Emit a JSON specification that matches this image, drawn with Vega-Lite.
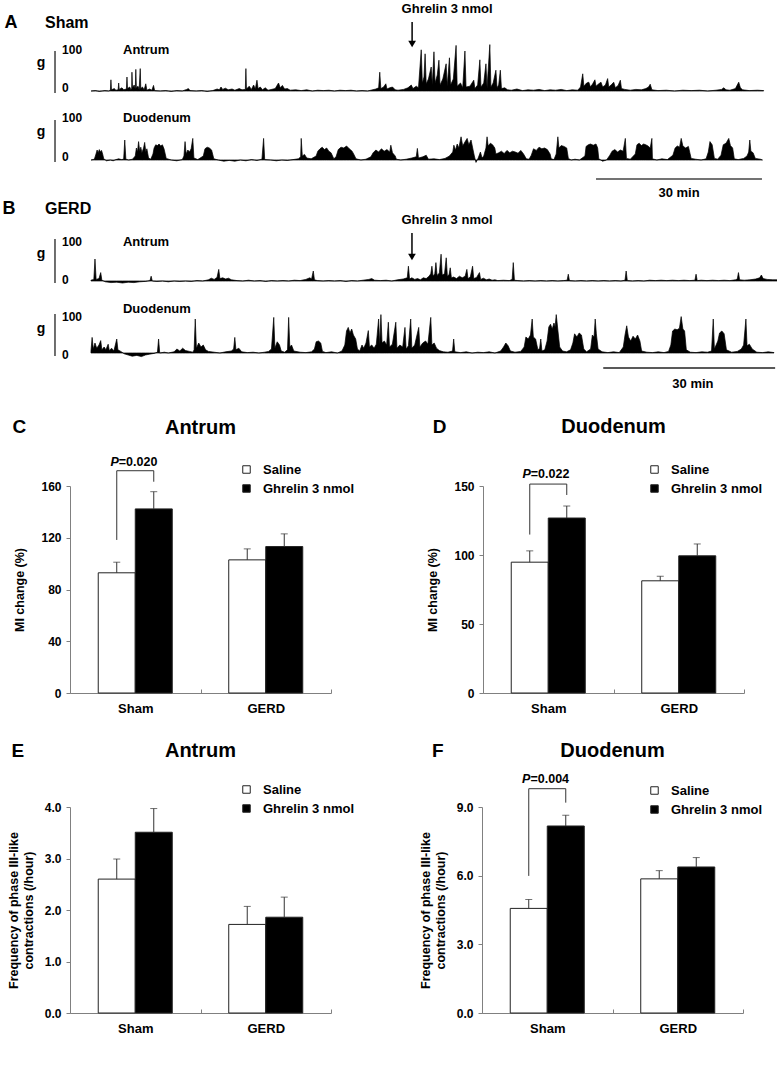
{
"$schema": "https://vega.github.io/schema/vega-lite/v6.json",
"background": "white",
"padding": {"left": 2, "top": 0, "right": 0, "bottom": 0},
"spacing": 26,
"resolve": {"scale": {"fill": "independent"}, "legend": {"fill": "independent"}},
"config": {
 "font": "Liberation Sans",
 "view": {"stroke": null},
 "text": {"font": "Liberation Sans", "fontWeight": "bold", "color": "black", "baseline": "middle"},
 "title": {"font": "Liberation Sans", "fontSize": 20, "fontWeight": "bold", "color": "black"},
 "axis": {"labelFont": "Liberation Sans", "labelFontWeight": "bold", "labelFontSize": 12, "labelColor": "black", "titleFont": "Liberation Sans", "titleFontWeight": "bold", "titleFontSize": 12.5, "titleColor": "black", "domainColor": "#808080", "tickColor": "#808080", "grid": false},
 "legend": {"symbolType": "square", "symbolSize": 56, "symbolStrokeColor": "#222", "symbolStrokeWidth": 1, "labelFont": "Liberation Sans", "labelFontSize": 13, "labelFontWeight": "bold", "labelColor": "black", "rowPadding": 5, "padding": 0, "labelOffset": 10}
},
"datasets": {
"traces": [
{"s":"A1","t":0,"v":0},{"s":"A1","t":0.8,"v":1},{"s":"A1","t":1.5,"v":-1},{"s":"A1","t":2.5,"v":1},{"s":"A1","t":3.2,"v":0},{"s":"A1","t":3.5,"v":2},{"s":"A1","t":3.6,"v":28},{"s":"A1","t":3.7,"v":3},{"s":"A1","t":4.2,"v":6},{"s":"A1","t":4.5,"v":2},{"s":"A1","t":4.9,"v":3},{"s":"A1","t":5.0,"v":20},{"s":"A1","t":5.1,"v":4},{"s":"A1","t":5.6,"v":8},{"s":"A1","t":5.9,"v":3},{"s":"A1","t":6.4,"v":5},{"s":"A1","t":6.5,"v":35},{"s":"A1","t":6.6,"v":6},{"s":"A1","t":7.0,"v":10},{"s":"A1","t":7.2,"v":4},{"s":"A1","t":7.35,"v":6},{"s":"A1","t":7.4,"v":47},{"s":"A1","t":7.5,"v":8},{"s":"A1","t":7.8,"v":15},{"s":"A1","t":8.0,"v":5},{"s":"A1","t":8.1,"v":54},{"s":"A1","t":8.2,"v":8},{"s":"A1","t":8.5,"v":12},{"s":"A1","t":8.7,"v":4},{"s":"A1","t":8.9,"v":56},{"s":"A1","t":9.0,"v":6},{"s":"A1","t":9.3,"v":10},{"s":"A1","t":9.6,"v":3},{"s":"A1","t":9.9,"v":18},{"s":"A1","t":10.1,"v":2},{"s":"A1","t":10.6,"v":5},{"s":"A1","t":11.0,"v":2},{"s":"A1","t":11.3,"v":14},{"s":"A1","t":11.5,"v":1},{"s":"A1","t":12.5,"v":0},{"s":"A1","t":13.5,"v":1},{"s":"A1","t":14.5,"v":-1},{"s":"A1","t":15.5,"v":1},{"s":"A1","t":16.5,"v":0},{"s":"A1","t":17.3,"v":4},{"s":"A1","t":17.6,"v":6},{"s":"A1","t":17.9,"v":1},{"s":"A1","t":19,"v":0},{"s":"A1","t":20,"v":1},{"s":"A1","t":21,"v":-1},{"s":"A1","t":22,"v":1},{"s":"A1","t":22.8,"v":5},{"s":"A1","t":23.2,"v":3},{"s":"A1","t":23.5,"v":10},{"s":"A1","t":23.8,"v":4},{"s":"A1","t":24.3,"v":7},{"s":"A1","t":24.8,"v":3},{"s":"A1","t":25.5,"v":5},{"s":"A1","t":26,"v":2},{"s":"A1","t":26.8,"v":6},{"s":"A1","t":27.3,"v":3},{"s":"A1","t":27.9,"v":4},{"s":"A1","t":28.0,"v":56},{"s":"A1","t":28.1,"v":5},{"s":"A1","t":28.6,"v":12},{"s":"A1","t":29.0,"v":4},{"s":"A1","t":29.4,"v":15},{"s":"A1","t":29.7,"v":5},{"s":"A1","t":30.0,"v":27},{"s":"A1","t":30.2,"v":6},{"s":"A1","t":30.6,"v":10},{"s":"A1","t":31.0,"v":3},{"s":"A1","t":31.5,"v":8},{"s":"A1","t":32,"v":2},{"s":"A1","t":33.3,"v":6},{"s":"A1","t":33.9,"v":20},{"s":"A1","t":34.2,"v":8},{"s":"A1","t":34.6,"v":14},{"s":"A1","t":35.0,"v":5},{"s":"A1","t":35.5,"v":6},{"s":"A1","t":36,"v":2},{"s":"A1","t":37,"v":3},{"s":"A1","t":38,"v":1},{"s":"A1","t":39,"v":3},{"s":"A1","t":40,"v":0},{"s":"A1","t":41,"v":2},{"s":"A1","t":42,"v":1},{"s":"A1","t":43,"v":2},{"s":"A1","t":44,"v":0},{"s":"A1","t":45,"v":2},{"s":"A1","t":46,"v":1},{"s":"A1","t":47,"v":2},{"s":"A1","t":48,"v":0},{"s":"A1","t":49,"v":1},{"s":"A1","t":50,"v":0},{"s":"A1","t":51.5,"v":5},{"s":"A1","t":52.0,"v":8},{"s":"A1","t":52.2,"v":47},{"s":"A1","t":52.4,"v":6},{"s":"A1","t":52.9,"v":10},{"s":"A1","t":53.3,"v":18},{"s":"A1","t":53.5,"v":5},{"s":"A1","t":54.0,"v":8},{"s":"A1","t":54.5,"v":10},{"s":"A1","t":55.0,"v":3},{"s":"A1","t":55.5,"v":2},{"s":"A1","t":56.5,"v":4},{"s":"A1","t":57.3,"v":8},{"s":"A1","t":57.9,"v":15},{"s":"A1","t":58.2,"v":6},{"s":"A1","t":58.8,"v":12},{"s":"A1","t":59.2,"v":8},{"s":"A1","t":59.7,"v":103},{"s":"A1","t":59.9,"v":20},{"s":"A1","t":60.2,"v":35},{"s":"A1","t":60.4,"v":93},{"s":"A1","t":60.6,"v":18},{"s":"A1","t":61.0,"v":30},{"s":"A1","t":61.5,"v":60},{"s":"A1","t":61.7,"v":15},{"s":"A1","t":62.0,"v":98},{"s":"A1","t":62.2,"v":20},{"s":"A1","t":62.6,"v":40},{"s":"A1","t":62.9,"v":77},{"s":"A1","t":63.1,"v":15},{"s":"A1","t":63.6,"v":30},{"s":"A1","t":64.2,"v":68},{"s":"A1","t":64.4,"v":12},{"s":"A1","t":64.8,"v":83},{"s":"A1","t":65.0,"v":15},{"s":"A1","t":65.5,"v":30},{"s":"A1","t":66.0,"v":114},{"s":"A1","t":66.2,"v":12},{"s":"A1","t":66.8,"v":20},{"s":"A1","t":67.2,"v":8},{"s":"A1","t":67.6,"v":100},{"s":"A1","t":67.8,"v":10},{"s":"A1","t":68.5,"v":12},{"s":"A1","t":69.2,"v":27},{"s":"A1","t":69.4,"v":6},{"s":"A1","t":69.9,"v":15},{"s":"A1","t":70.3,"v":78},{"s":"A1","t":70.5,"v":10},{"s":"A1","t":71.0,"v":20},{"s":"A1","t":71.4,"v":68},{"s":"A1","t":71.6,"v":8},{"s":"A1","t":72.1,"v":116},{"s":"A1","t":72.3,"v":10},{"s":"A1","t":72.7,"v":20},{"s":"A1","t":73.2,"v":52},{"s":"A1","t":73.4,"v":8},{"s":"A1","t":73.7,"v":15},{"s":"A1","t":74.0,"v":52},{"s":"A1","t":74.2,"v":6},{"s":"A1","t":74.8,"v":8},{"s":"A1","t":75.3,"v":3},{"s":"A1","t":76,"v":2},{"s":"A1","t":77,"v":5},{"s":"A1","t":78,"v":1},{"s":"A1","t":79,"v":3},{"s":"A1","t":80,"v":2},{"s":"A1","t":81,"v":4},{"s":"A1","t":82,"v":1},{"s":"A1","t":83,"v":3},{"s":"A1","t":84,"v":2},{"s":"A1","t":85,"v":4},{"s":"A1","t":86,"v":1},{"s":"A1","t":87,"v":3},{"s":"A1","t":88,"v":2},{"s":"A1","t":88.5,"v":10},{"s":"A1","t":88.9,"v":43},{"s":"A1","t":89.1,"v":12},{"s":"A1","t":89.6,"v":20},{"s":"A1","t":90.0,"v":22},{"s":"A1","t":90.3,"v":10},{"s":"A1","t":90.7,"v":18},{"s":"A1","t":91.1,"v":28},{"s":"A1","t":91.3,"v":12},{"s":"A1","t":91.8,"v":18},{"s":"A1","t":92.2,"v":22},{"s":"A1","t":92.5,"v":10},{"s":"A1","t":93.0,"v":15},{"s":"A1","t":93.4,"v":31},{"s":"A1","t":93.6,"v":10},{"s":"A1","t":94.1,"v":16},{"s":"A1","t":94.5,"v":22},{"s":"A1","t":94.8,"v":8},{"s":"A1","t":95.3,"v":14},{"s":"A1","t":95.7,"v":27},{"s":"A1","t":95.9,"v":6},{"s":"A1","t":96.5,"v":4},{"s":"A1","t":97.5,"v":2},{"s":"A1","t":98.5,"v":4},{"s":"A1","t":99.5,"v":3},{"s":"A1","t":100.3,"v":6},{"s":"A1","t":100.8,"v":10},{"s":"A1","t":101.1,"v":17},{"s":"A1","t":101.4,"v":3},{"s":"A1","t":102.5,"v":1},{"s":"A1","t":104,"v":2},{"s":"A1","t":105.5,"v":0},{"s":"A1","t":107,"v":2},{"s":"A1","t":108.5,"v":1},{"s":"A1","t":110,"v":2},{"s":"A1","t":111.5,"v":0},{"s":"A1","t":113,"v":2},{"s":"A1","t":114.0,"v":4},{"s":"A1","t":114.4,"v":8},{"s":"A1","t":114.8,"v":3},{"s":"A1","t":115.5,"v":2},{"s":"A1","t":116.5,"v":6},{"s":"A1","t":117.1,"v":22},{"s":"A1","t":117.4,"v":8},{"s":"A1","t":117.8,"v":3},{"s":"A1","t":119,"v":1},{"s":"A1","t":120.5,"v":2},{"s":"A1","t":121.6,"v":1},
{"s":"A2","t":0,"v":0},{"s":"A2","t":0.6,"v":2},{"s":"A2","t":0.9,"v":15},{"s":"A2","t":1.1,"v":25},{"s":"A2","t":1.3,"v":18},{"s":"A2","t":1.5,"v":26},{"s":"A2","t":1.7,"v":20},{"s":"A2","t":1.9,"v":24},{"s":"A2","t":2.1,"v":15},{"s":"A2","t":2.3,"v":3},{"s":"A2","t":2.8,"v":-2},{"s":"A2","t":3.5,"v":0},{"s":"A2","t":4.0,"v":-2},{"s":"A2","t":4.5,"v":1},{"s":"A2","t":5.0,"v":3},{"s":"A2","t":5.5,"v":1},{"s":"A2","t":5.9,"v":2},{"s":"A2","t":6.1,"v":50},{"s":"A2","t":6.3,"v":2},{"s":"A2","t":6.8,"v":0},{"s":"A2","t":7.5,"v":2},{"s":"A2","t":8.0,"v":10},{"s":"A2","t":8.2,"v":30},{"s":"A2","t":8.4,"v":20},{"s":"A2","t":8.6,"v":46},{"s":"A2","t":8.8,"v":22},{"s":"A2","t":9.0,"v":32},{"s":"A2","t":9.2,"v":18},{"s":"A2","t":9.5,"v":30},{"s":"A2","t":9.7,"v":44},{"s":"A2","t":9.9,"v":20},{"s":"A2","t":10.1,"v":28},{"s":"A2","t":10.4,"v":5},{"s":"A2","t":10.8,"v":2},{"s":"A2","t":11.2,"v":15},{"s":"A2","t":11.4,"v":30},{"s":"A2","t":11.7,"v":38},{"s":"A2","t":12.0,"v":36},{"s":"A2","t":12.3,"v":40},{"s":"A2","t":12.6,"v":35},{"s":"A2","t":12.9,"v":38},{"s":"A2","t":13.2,"v":28},{"s":"A2","t":13.6,"v":4},{"s":"A2","t":14.5,"v":0},{"s":"A2","t":15.5,"v":-2},{"s":"A2","t":16.5,"v":1},{"s":"A2","t":16.8,"v":10},{"s":"A2","t":17.0,"v":46},{"s":"A2","t":17.2,"v":15},{"s":"A2","t":17.5,"v":25},{"s":"A2","t":17.8,"v":20},{"s":"A2","t":18.1,"v":28},{"s":"A2","t":18.4,"v":54},{"s":"A2","t":18.6,"v":5},{"s":"A2","t":19.3,"v":1},{"s":"A2","t":20.3,"v":10},{"s":"A2","t":20.6,"v":28},{"s":"A2","t":21.0,"v":32},{"s":"A2","t":21.4,"v":30},{"s":"A2","t":21.8,"v":25},{"s":"A2","t":22.2,"v":3},{"s":"A2","t":23,"v":0},{"s":"A2","t":24,"v":-3},{"s":"A2","t":25,"v":-1},{"s":"A2","t":26,"v":-3},{"s":"A2","t":27,"v":0},{"s":"A2","t":28,"v":-2},{"s":"A2","t":29,"v":1},{"s":"A2","t":30,"v":-1},{"s":"A2","t":30.9,"v":2},{"s":"A2","t":31.2,"v":54},{"s":"A2","t":31.4,"v":1},{"s":"A2","t":32.5,"v":0},{"s":"A2","t":33.5,"v":-2},{"s":"A2","t":34.5,"v":0},{"s":"A2","t":35.5,"v":-1},{"s":"A2","t":36.5,"v":1},{"s":"A2","t":37.5,"v":3},{"s":"A2","t":37.9,"v":8},{"s":"A2","t":38.0,"v":54},{"s":"A2","t":38.2,"v":10},{"s":"A2","t":38.6,"v":14},{"s":"A2","t":39.0,"v":5},{"s":"A2","t":39.8,"v":3},{"s":"A2","t":40.7,"v":10},{"s":"A2","t":41.0,"v":22},{"s":"A2","t":41.4,"v":28},{"s":"A2","t":41.8,"v":32},{"s":"A2","t":42.2,"v":26},{"s":"A2","t":42.6,"v":30},{"s":"A2","t":43.0,"v":22},{"s":"A2","t":43.4,"v":18},{"s":"A2","t":43.9,"v":3},{"s":"A2","t":44.3,"v":8},{"s":"A2","t":44.7,"v":26},{"s":"A2","t":45.2,"v":32},{"s":"A2","t":45.7,"v":30},{"s":"A2","t":46.2,"v":35},{"s":"A2","t":46.7,"v":28},{"s":"A2","t":47.2,"v":22},{"s":"A2","t":47.6,"v":12},{"s":"A2","t":47.9,"v":3},{"s":"A2","t":48.8,"v":0},{"s":"A2","t":49.7,"v":2},{"s":"A2","t":50.6,"v":8},{"s":"A2","t":51.0,"v":18},{"s":"A2","t":51.5,"v":25},{"s":"A2","t":52.0,"v":20},{"s":"A2","t":52.5,"v":28},{"s":"A2","t":53.0,"v":22},{"s":"A2","t":53.5,"v":26},{"s":"A2","t":54.0,"v":20},{"s":"A2","t":54.2,"v":37},{"s":"A2","t":54.5,"v":18},{"s":"A2","t":55.0,"v":10},{"s":"A2","t":55.2,"v":2},{"s":"A2","t":56.0,"v":0},{"s":"A2","t":57.0,"v":2},{"s":"A2","t":58.0,"v":5},{"s":"A2","t":58.8,"v":8},{"s":"A2","t":59.0,"v":29},{"s":"A2","t":59.2,"v":5},{"s":"A2","t":60.0,"v":8},{"s":"A2","t":60.6,"v":12},{"s":"A2","t":61.0,"v":2},{"s":"A2","t":62.0,"v":3},{"s":"A2","t":63.0,"v":1},{"s":"A2","t":64.0,"v":4},{"s":"A2","t":64.8,"v":10},{"s":"A2","t":65.4,"v":20},{"s":"A2","t":65.6,"v":37},{"s":"A2","t":65.9,"v":25},{"s":"A2","t":66.2,"v":40},{"s":"A2","t":66.5,"v":30},{"s":"A2","t":66.9,"v":58},{"s":"A2","t":67.2,"v":35},{"s":"A2","t":67.6,"v":45},{"s":"A2","t":68.0,"v":54},{"s":"A2","t":68.3,"v":38},{"s":"A2","t":68.7,"v":50},{"s":"A2","t":69.0,"v":30},{"s":"A2","t":69.3,"v":10},{"s":"A2","t":69.6,"v":-6},{"s":"A2","t":70.0,"v":5},{"s":"A2","t":70.4,"v":20},{"s":"A2","t":70.7,"v":5},{"s":"A2","t":71.0,"v":10},{"s":"A2","t":71.4,"v":30},{"s":"A2","t":71.6,"v":58},{"s":"A2","t":71.8,"v":35},{"s":"A2","t":72.2,"v":42},{"s":"A2","t":72.6,"v":38},{"s":"A2","t":73.0,"v":30},{"s":"A2","t":73.2,"v":15},{"s":"A2","t":73.7,"v":18},{"s":"A2","t":74.2,"v":22},{"s":"A2","t":74.7,"v":16},{"s":"A2","t":75.2,"v":24},{"s":"A2","t":75.7,"v":18},{"s":"A2","t":76.2,"v":22},{"s":"A2","t":76.7,"v":20},{"s":"A2","t":77.2,"v":17},{"s":"A2","t":77.7,"v":24},{"s":"A2","t":78.2,"v":15},{"s":"A2","t":78.7,"v":3},{"s":"A2","t":79.2,"v":2},{"s":"A2","t":79.6,"v":12},{"s":"A2","t":80.0,"v":28},{"s":"A2","t":80.5,"v":24},{"s":"A2","t":81.0,"v":32},{"s":"A2","t":81.5,"v":28},{"s":"A2","t":82.0,"v":30},{"s":"A2","t":82.5,"v":26},{"s":"A2","t":83.0,"v":15},{"s":"A2","t":83.2,"v":3},{"s":"A2","t":83.7,"v":1},{"s":"A2","t":84.1,"v":15},{"s":"A2","t":84.4,"v":58},{"s":"A2","t":84.6,"v":30},{"s":"A2","t":85.0,"v":36},{"s":"A2","t":85.5,"v":34},{"s":"A2","t":86.0,"v":30},{"s":"A2","t":86.3,"v":4},{"s":"A2","t":86.8,"v":0},{"s":"A2","t":87.5,"v":2},{"s":"A2","t":88.3,"v":0},{"s":"A2","t":89.3,"v":10},{"s":"A2","t":89.5,"v":34},{"s":"A2","t":89.9,"v":38},{"s":"A2","t":90.3,"v":40},{"s":"A2","t":90.8,"v":37},{"s":"A2","t":91.3,"v":40},{"s":"A2","t":91.6,"v":30},{"s":"A2","t":91.8,"v":3},{"s":"A2","t":92.5,"v":-3},{"s":"A2","t":93.2,"v":0},{"s":"A2","t":93.8,"v":12},{"s":"A2","t":94.2,"v":22},{"s":"A2","t":94.7,"v":26},{"s":"A2","t":95.2,"v":20},{"s":"A2","t":95.7,"v":25},{"s":"A2","t":96.2,"v":22},{"s":"A2","t":96.6,"v":54},{"s":"A2","t":96.8,"v":4},{"s":"A2","t":97.5,"v":2},{"s":"A2","t":98.4,"v":15},{"s":"A2","t":98.7,"v":38},{"s":"A2","t":99.1,"v":42},{"s":"A2","t":99.5,"v":36},{"s":"A2","t":99.9,"v":40},{"s":"A2","t":100.3,"v":38},{"s":"A2","t":100.7,"v":35},{"s":"A2","t":101.1,"v":30},{"s":"A2","t":101.4,"v":54},{"s":"A2","t":101.5,"v":3},{"s":"A2","t":102.3,"v":0},{"s":"A2","t":103.2,"v":3},{"s":"A2","t":104.2,"v":1},{"s":"A2","t":105.2,"v":12},{"s":"A2","t":105.6,"v":30},{"s":"A2","t":106.0,"v":35},{"s":"A2","t":106.4,"v":32},{"s":"A2","t":106.7,"v":54},{"s":"A2","t":107.0,"v":35},{"s":"A2","t":107.5,"v":30},{"s":"A2","t":108.0,"v":34},{"s":"A2","t":108.5,"v":4},{"s":"A2","t":109.3,"v":2},{"s":"A2","t":110.3,"v":0},{"s":"A2","t":111.2,"v":3},{"s":"A2","t":111.6,"v":20},{"s":"A2","t":111.9,"v":46},{"s":"A2","t":112.3,"v":38},{"s":"A2","t":112.7,"v":4},{"s":"A2","t":113.3,"v":2},{"s":"A2","t":113.9,"v":12},{"s":"A2","t":114.3,"v":38},{"s":"A2","t":114.8,"v":42},{"s":"A2","t":115.3,"v":54},{"s":"A2","t":115.6,"v":36},{"s":"A2","t":116.0,"v":30},{"s":"A2","t":116.3,"v":3},{"s":"A2","t":117.0,"v":1},{"s":"A2","t":118.0,"v":4},{"s":"A2","t":118.6,"v":10},{"s":"A2","t":118.9,"v":20},{"s":"A2","t":119.1,"v":50},{"s":"A2","t":119.3,"v":22},{"s":"A2","t":119.7,"v":18},{"s":"A2","t":120.1,"v":4},{"s":"A2","t":121.0,"v":2},{"s":"A2","t":121.4,"v":0},
{"s":"B1","t":0,"v":2},{"s":"B1","t":0.5,"v":4},{"s":"B1","t":0.7,"v":55},{"s":"B1","t":0.9,"v":4},{"s":"B1","t":1.4,"v":6},{"s":"B1","t":1.7,"v":21},{"s":"B1","t":1.9,"v":2},{"s":"B1","t":2.5,"v":-2},{"s":"B1","t":3.5,"v":-4},{"s":"B1","t":4.5,"v":-3},{"s":"B1","t":5.5,"v":-5},{"s":"B1","t":6.5,"v":-3},{"s":"B1","t":7.5,"v":-4},{"s":"B1","t":8.5,"v":-2},{"s":"B1","t":9.5,"v":-1},{"s":"B1","t":10.3,"v":1},{"s":"B1","t":10.5,"v":12},{"s":"B1","t":10.7,"v":0},{"s":"B1","t":11.5,"v":-1},{"s":"B1","t":12.5,"v":0},{"s":"B1","t":13.5,"v":-2},{"s":"B1","t":14.5,"v":0},{"s":"B1","t":15.5,"v":-1},{"s":"B1","t":16.5,"v":0},{"s":"B1","t":17.5,"v":-1},{"s":"B1","t":18.5,"v":1},{"s":"B1","t":19.5,"v":0},{"s":"B1","t":20.5,"v":3},{"s":"B1","t":21.0,"v":7},{"s":"B1","t":21.5,"v":4},{"s":"B1","t":22.0,"v":9},{"s":"B1","t":22.3,"v":29},{"s":"B1","t":22.5,"v":6},{"s":"B1","t":23.0,"v":8},{"s":"B1","t":23.5,"v":5},{"s":"B1","t":24.0,"v":7},{"s":"B1","t":24.5,"v":3},{"s":"B1","t":25.5,"v":1},{"s":"B1","t":26.5,"v":0},{"s":"B1","t":27.5,"v":2},{"s":"B1","t":28.5,"v":0},{"s":"B1","t":29.5,"v":1},{"s":"B1","t":30.5,"v":-1},{"s":"B1","t":31.5,"v":1},{"s":"B1","t":32.5,"v":0},{"s":"B1","t":33.5,"v":1},{"s":"B1","t":34.5,"v":0},{"s":"B1","t":35.5,"v":2},{"s":"B1","t":36.5,"v":1},{"s":"B1","t":37.5,"v":4},{"s":"B1","t":38.2,"v":8},{"s":"B1","t":38.5,"v":5},{"s":"B1","t":38.8,"v":25},{"s":"B1","t":39.0,"v":3},{"s":"B1","t":39.5,"v":1},{"s":"B1","t":40.5,"v":0},{"s":"B1","t":41.5,"v":1},{"s":"B1","t":42.5,"v":0},{"s":"B1","t":43.5,"v":1},{"s":"B1","t":44.5,"v":-1},{"s":"B1","t":45.5,"v":1},{"s":"B1","t":46.5,"v":0},{"s":"B1","t":47.5,"v":2},{"s":"B1","t":48.5,"v":4},{"s":"B1","t":49.0,"v":6},{"s":"B1","t":49.5,"v":2},{"s":"B1","t":50.5,"v":1},{"s":"B1","t":51.5,"v":2},{"s":"B1","t":52.5,"v":0},{"s":"B1","t":53.5,"v":3},{"s":"B1","t":54.5,"v":5},{"s":"B1","t":55.2,"v":8},{"s":"B1","t":55.4,"v":37},{"s":"B1","t":55.6,"v":5},{"s":"B1","t":56.0,"v":8},{"s":"B1","t":56.5,"v":4},{"s":"B1","t":57.0,"v":6},{"s":"B1","t":57.5,"v":3},{"s":"B1","t":58.0,"v":8},{"s":"B1","t":58.5,"v":6},{"s":"B1","t":59.0,"v":12},{"s":"B1","t":59.3,"v":18},{"s":"B1","t":59.5,"v":37},{"s":"B1","t":59.7,"v":12},{"s":"B1","t":60.0,"v":18},{"s":"B1","t":60.2,"v":46},{"s":"B1","t":60.4,"v":14},{"s":"B1","t":60.8,"v":20},{"s":"B1","t":61.1,"v":67},{"s":"B1","t":61.3,"v":15},{"s":"B1","t":61.7,"v":18},{"s":"B1","t":62.0,"v":58},{"s":"B1","t":62.2,"v":12},{"s":"B1","t":62.5,"v":16},{"s":"B1","t":62.7,"v":33},{"s":"B1","t":62.9,"v":8},{"s":"B1","t":63.3,"v":10},{"s":"B1","t":63.8,"v":6},{"s":"B1","t":64.3,"v":12},{"s":"B1","t":64.8,"v":8},{"s":"B1","t":65.3,"v":12},{"s":"B1","t":65.6,"v":29},{"s":"B1","t":65.8,"v":6},{"s":"B1","t":66.2,"v":10},{"s":"B1","t":66.6,"v":37},{"s":"B1","t":66.8,"v":6},{"s":"B1","t":67.3,"v":9},{"s":"B1","t":67.8,"v":21},{"s":"B1","t":68.0,"v":4},{"s":"B1","t":68.5,"v":7},{"s":"B1","t":69.0,"v":3},{"s":"B1","t":69.5,"v":5},{"s":"B1","t":70.0,"v":2},{"s":"B1","t":70.5,"v":3},{"s":"B1","t":71.0,"v":1},{"s":"B1","t":72.0,"v":2},{"s":"B1","t":73.0,"v":1},{"s":"B1","t":73.5,"v":4},{"s":"B1","t":73.7,"v":46},{"s":"B1","t":73.9,"v":2},{"s":"B1","t":74.5,"v":1},{"s":"B1","t":75.5,"v":0},{"s":"B1","t":76.5,"v":1},{"s":"B1","t":77.5,"v":0},{"s":"B1","t":78.5,"v":1},{"s":"B1","t":79.5,"v":0},{"s":"B1","t":80.5,"v":1},{"s":"B1","t":81.5,"v":0},{"s":"B1","t":82.5,"v":1},{"s":"B1","t":83.1,"v":2},{"s":"B1","t":83.3,"v":17},{"s":"B1","t":83.5,"v":1},{"s":"B1","t":84.5,"v":0},{"s":"B1","t":85.5,"v":1},{"s":"B1","t":86.5,"v":0},{"s":"B1","t":87.5,"v":1},{"s":"B1","t":88.5,"v":0},{"s":"B1","t":89.5,"v":1},{"s":"B1","t":90.5,"v":0},{"s":"B1","t":91.5,"v":1},{"s":"B1","t":92.5,"v":0},{"s":"B1","t":93.2,"v":2},{"s":"B1","t":93.4,"v":25},{"s":"B1","t":93.6,"v":1},{"s":"B1","t":94.5,"v":0},{"s":"B1","t":95.5,"v":1},{"s":"B1","t":96.5,"v":0},{"s":"B1","t":97.5,"v":2},{"s":"B1","t":98.5,"v":1},{"s":"B1","t":99.5,"v":2},{"s":"B1","t":100.5,"v":1},{"s":"B1","t":101.5,"v":2},{"s":"B1","t":102.5,"v":1},{"s":"B1","t":103.5,"v":2},{"s":"B1","t":104.5,"v":1},{"s":"B1","t":105.4,"v":2},{"s":"B1","t":105.6,"v":17},{"s":"B1","t":105.8,"v":1},{"s":"B1","t":106.5,"v":2},{"s":"B1","t":107.5,"v":1},{"s":"B1","t":108.5,"v":2},{"s":"B1","t":109.5,"v":1},{"s":"B1","t":110.5,"v":2},{"s":"B1","t":111.5,"v":1},{"s":"B1","t":112.5,"v":3},{"s":"B1","t":112.8,"v":5},{"s":"B1","t":113.0,"v":21},{"s":"B1","t":113.2,"v":3},{"s":"B1","t":114.0,"v":2},{"s":"B1","t":115.0,"v":3},{"s":"B1","t":116.0,"v":5},{"s":"B1","t":116.7,"v":8},{"s":"B1","t":117.0,"v":15},{"s":"B1","t":117.3,"v":6},{"s":"B1","t":118.0,"v":4},{"s":"B1","t":119.0,"v":3},{"s":"B1","t":120.4,"v":3},
{"s":"B2","t":0,"v":5},{"s":"B2","t":0.2,"v":39},{"s":"B2","t":0.4,"v":10},{"s":"B2","t":0.7,"v":25},{"s":"B2","t":1.0,"v":12},{"s":"B2","t":1.4,"v":20},{"s":"B2","t":1.7,"v":31},{"s":"B2","t":1.9,"v":8},{"s":"B2","t":2.3,"v":15},{"s":"B2","t":2.6,"v":8},{"s":"B2","t":3.0,"v":22},{"s":"B2","t":3.2,"v":6},{"s":"B2","t":3.6,"v":12},{"s":"B2","t":4.0,"v":5},{"s":"B2","t":4.5,"v":35},{"s":"B2","t":4.7,"v":8},{"s":"B2","t":5.2,"v":4},{"s":"B2","t":5.8,"v":-2},{"s":"B2","t":6.5,"v":-5},{"s":"B2","t":7.2,"v":-8},{"s":"B2","t":8.0,"v":-6},{"s":"B2","t":8.8,"v":-9},{"s":"B2","t":9.5,"v":-5},{"s":"B2","t":10.2,"v":-3},{"s":"B2","t":11.0,"v":-1},{"s":"B2","t":11.6,"v":2},{"s":"B2","t":11.8,"v":35},{"s":"B2","t":12.0,"v":0},{"s":"B2","t":12.8,"v":2},{"s":"B2","t":13.5,"v":0},{"s":"B2","t":14.5,"v":3},{"s":"B2","t":15.0,"v":10},{"s":"B2","t":15.5,"v":5},{"s":"B2","t":16.0,"v":12},{"s":"B2","t":16.5,"v":6},{"s":"B2","t":17.2,"v":4},{"s":"B2","t":17.8,"v":2},{"s":"B2","t":18.0,"v":8},{"s":"B2","t":18.2,"v":85},{"s":"B2","t":18.4,"v":12},{"s":"B2","t":18.8,"v":25},{"s":"B2","t":19.2,"v":15},{"s":"B2","t":19.6,"v":20},{"s":"B2","t":20.0,"v":8},{"s":"B2","t":20.5,"v":4},{"s":"B2","t":21.5,"v":2},{"s":"B2","t":22.5,"v":0},{"s":"B2","t":23.5,"v":3},{"s":"B2","t":24.5,"v":5},{"s":"B2","t":24.9,"v":10},{"s":"B2","t":25.1,"v":39},{"s":"B2","t":25.3,"v":8},{"s":"B2","t":25.8,"v":12},{"s":"B2","t":26.3,"v":3},{"s":"B2","t":27.3,"v":1},{"s":"B2","t":28.3,"v":2},{"s":"B2","t":29.3,"v":0},{"s":"B2","t":30.3,"v":2},{"s":"B2","t":31.0,"v":4},{"s":"B2","t":31.5,"v":10},{"s":"B2","t":31.9,"v":89},{"s":"B2","t":32.1,"v":12},{"s":"B2","t":32.5,"v":28},{"s":"B2","t":32.9,"v":20},{"s":"B2","t":33.2,"v":5},{"s":"B2","t":33.8,"v":2},{"s":"B2","t":34.3,"v":8},{"s":"B2","t":34.5,"v":89},{"s":"B2","t":34.7,"v":15},{"s":"B2","t":35.0,"v":20},{"s":"B2","t":35.4,"v":5},{"s":"B2","t":36.5,"v":2},{"s":"B2","t":37.5,"v":1},{"s":"B2","t":38.5,"v":3},{"s":"B2","t":39.0,"v":10},{"s":"B2","t":39.3,"v":28},{"s":"B2","t":39.7,"v":30},{"s":"B2","t":40.1,"v":25},{"s":"B2","t":40.4,"v":4},{"s":"B2","t":41.0,"v":1},{"s":"B2","t":42.0,"v":3},{"s":"B2","t":43.0,"v":0},{"s":"B2","t":43.8,"v":5},{"s":"B2","t":44.3,"v":20},{"s":"B2","t":44.6,"v":55},{"s":"B2","t":44.9,"v":64},{"s":"B2","t":45.2,"v":50},{"s":"B2","t":45.5,"v":60},{"s":"B2","t":45.8,"v":45},{"s":"B2","t":46.2,"v":35},{"s":"B2","t":46.5,"v":10},{"s":"B2","t":46.9,"v":5},{"s":"B2","t":47.3,"v":20},{"s":"B2","t":47.6,"v":12},{"s":"B2","t":48.0,"v":25},{"s":"B2","t":48.4,"v":56},{"s":"B2","t":48.6,"v":15},{"s":"B2","t":49.0,"v":20},{"s":"B2","t":49.4,"v":12},{"s":"B2","t":49.8,"v":22},{"s":"B2","t":50.2,"v":85},{"s":"B2","t":50.4,"v":20},{"s":"B2","t":50.6,"v":96},{"s":"B2","t":50.8,"v":25},{"s":"B2","t":51.2,"v":30},{"s":"B2","t":51.6,"v":20},{"s":"B2","t":51.9,"v":77},{"s":"B2","t":52.1,"v":15},{"s":"B2","t":52.6,"v":22},{"s":"B2","t":53.2,"v":77},{"s":"B2","t":53.4,"v":12},{"s":"B2","t":53.9,"v":20},{"s":"B2","t":54.4,"v":15},{"s":"B2","t":54.8,"v":64},{"s":"B2","t":55.0,"v":10},{"s":"B2","t":55.4,"v":18},{"s":"B2","t":55.8,"v":85},{"s":"B2","t":56.0,"v":12},{"s":"B2","t":56.5,"v":20},{"s":"B2","t":57.2,"v":64},{"s":"B2","t":57.4,"v":15},{"s":"B2","t":57.9,"v":25},{"s":"B2","t":58.4,"v":30},{"s":"B2","t":58.8,"v":22},{"s":"B2","t":59.3,"v":89},{"s":"B2","t":59.5,"v":20},{"s":"B2","t":59.9,"v":25},{"s":"B2","t":60.3,"v":12},{"s":"B2","t":60.8,"v":6},{"s":"B2","t":61.5,"v":3},{"s":"B2","t":62.3,"v":2},{"s":"B2","t":63.1,"v":5},{"s":"B2","t":63.3,"v":35},{"s":"B2","t":63.5,"v":3},{"s":"B2","t":64.5,"v":1},{"s":"B2","t":65.5,"v":3},{"s":"B2","t":66.5,"v":0},{"s":"B2","t":67.5,"v":2},{"s":"B2","t":68.5,"v":1},{"s":"B2","t":69.5,"v":3},{"s":"B2","t":70.5,"v":0},{"s":"B2","t":71.5,"v":5},{"s":"B2","t":72.0,"v":15},{"s":"B2","t":72.4,"v":25},{"s":"B2","t":72.8,"v":18},{"s":"B2","t":73.2,"v":5},{"s":"B2","t":74.0,"v":2},{"s":"B2","t":75.0,"v":4},{"s":"B2","t":75.6,"v":15},{"s":"B2","t":75.9,"v":40},{"s":"B2","t":76.3,"v":35},{"s":"B2","t":76.7,"v":45},{"s":"B2","t":77.0,"v":85},{"s":"B2","t":77.2,"v":40},{"s":"B2","t":77.6,"v":35},{"s":"B2","t":78.0,"v":8},{"s":"B2","t":78.3,"v":12},{"s":"B2","t":78.5,"v":35},{"s":"B2","t":78.7,"v":5},{"s":"B2","t":79.2,"v":8},{"s":"B2","t":79.6,"v":30},{"s":"B2","t":79.9,"v":65},{"s":"B2","t":80.2,"v":72},{"s":"B2","t":80.5,"v":60},{"s":"B2","t":80.8,"v":75},{"s":"B2","t":81.0,"v":65},{"s":"B2","t":81.2,"v":96},{"s":"B2","t":81.5,"v":55},{"s":"B2","t":81.8,"v":15},{"s":"B2","t":82.3,"v":5},{"s":"B2","t":83.0,"v":3},{"s":"B2","t":83.7,"v":8},{"s":"B2","t":84.1,"v":25},{"s":"B2","t":84.4,"v":48},{"s":"B2","t":84.8,"v":40},{"s":"B2","t":85.2,"v":50},{"s":"B2","t":85.6,"v":45},{"s":"B2","t":86.0,"v":10},{"s":"B2","t":86.5,"v":3},{"s":"B2","t":87.2,"v":10},{"s":"B2","t":87.5,"v":45},{"s":"B2","t":87.8,"v":40},{"s":"B2","t":88.0,"v":85},{"s":"B2","t":88.2,"v":48},{"s":"B2","t":88.5,"v":10},{"s":"B2","t":89.2,"v":3},{"s":"B2","t":90.2,"v":1},{"s":"B2","t":91.2,"v":3},{"s":"B2","t":92.2,"v":1},{"s":"B2","t":92.9,"v":15},{"s":"B2","t":93.2,"v":45},{"s":"B2","t":93.5,"v":68},{"s":"B2","t":93.8,"v":40},{"s":"B2","t":94.2,"v":30},{"s":"B2","t":94.6,"v":42},{"s":"B2","t":95.0,"v":35},{"s":"B2","t":95.4,"v":45},{"s":"B2","t":95.8,"v":30},{"s":"B2","t":96.1,"v":5},{"s":"B2","t":97.0,"v":2},{"s":"B2","t":98.0,"v":1},{"s":"B2","t":99.0,"v":3},{"s":"B2","t":100.0,"v":1},{"s":"B2","t":100.8,"v":4},{"s":"B2","t":101.2,"v":20},{"s":"B2","t":101.5,"v":55},{"s":"B2","t":101.9,"v":60},{"s":"B2","t":102.3,"v":58},{"s":"B2","t":102.7,"v":62},{"s":"B2","t":103.0,"v":91},{"s":"B2","t":103.3,"v":60},{"s":"B2","t":103.6,"v":55},{"s":"B2","t":103.9,"v":8},{"s":"B2","t":104.6,"v":2},{"s":"B2","t":105.6,"v":1},{"s":"B2","t":106.6,"v":3},{"s":"B2","t":107.6,"v":2},{"s":"B2","t":108.3,"v":5},{"s":"B2","t":108.6,"v":85},{"s":"B2","t":108.8,"v":10},{"s":"B2","t":109.4,"v":30},{"s":"B2","t":109.7,"v":50},{"s":"B2","t":110.1,"v":55},{"s":"B2","t":110.5,"v":48},{"s":"B2","t":110.9,"v":8},{"s":"B2","t":111.8,"v":2},{"s":"B2","t":112.8,"v":4},{"s":"B2","t":113.5,"v":10},{"s":"B2","t":113.9,"v":20},{"s":"B2","t":114.3,"v":85},{"s":"B2","t":114.5,"v":18},{"s":"B2","t":114.9,"v":22},{"s":"B2","t":115.4,"v":10},{"s":"B2","t":116.2,"v":2},{"s":"B2","t":117.2,"v":1},{"s":"B2","t":118.2,"v":3},{"s":"B2","t":119.2,"v":1}
],
"bars": [
{"panel":"C","group":"Sham","treatment":"Saline","mean":92.9,"upper":101.1},
{"panel":"C","group":"Sham","treatment":"Ghrelin 3 nmol","mean":142.3,"upper":155.6},
{"panel":"C","group":"GERD","treatment":"Saline","mean":102.9,"upper":111.4},
{"panel":"C","group":"GERD","treatment":"Ghrelin 3 nmol","mean":113.2,"upper":123.0},
{"panel":"D","group":"Sham","treatment":"Saline","mean":94.8,"upper":103.0},
{"panel":"D","group":"Sham","treatment":"Ghrelin 3 nmol","mean":126.8,"upper":135.5},
{"panel":"D","group":"GERD","treatment":"Saline","mean":81.3,"upper":84.6},
{"panel":"D","group":"GERD","treatment":"Ghrelin 3 nmol","mean":99.4,"upper":108.0},
{"panel":"E","group":"Sham","treatment":"Saline","mean":2.60,"upper":2.99},
{"panel":"E","group":"Sham","treatment":"Ghrelin 3 nmol","mean":3.51,"upper":3.97},
{"panel":"E","group":"GERD","treatment":"Saline","mean":1.72,"upper":2.07},
{"panel":"E","group":"GERD","treatment":"Ghrelin 3 nmol","mean":1.86,"upper":2.25},
{"panel":"F","group":"Sham","treatment":"Saline","mean":4.57,"upper":4.96},
{"panel":"F","group":"Sham","treatment":"Ghrelin 3 nmol","mean":8.17,"upper":8.64},
{"panel":"F","group":"GERD","treatment":"Saline","mean":5.86,"upper":6.22},
{"panel":"F","group":"GERD","treatment":"Ghrelin 3 nmol","mean":6.38,"upper":6.79}
],
"brackets": [
{"panel":"C","group":"Sham","treatment":"Saline","y":118.3,"i":1},
{"panel":"C","group":"Sham","treatment":"Saline","y":171.8,"i":2},
{"panel":"C","group":"Sham","treatment":"Ghrelin 3 nmol","y":171.8,"i":3},
{"panel":"C","group":"Sham","treatment":"Ghrelin 3 nmol","y":163.3,"i":4},
{"panel":"D","group":"Sham","treatment":"Saline","y":114.8,"i":1},
{"panel":"D","group":"Sham","treatment":"Saline","y":151.4,"i":2},
{"panel":"D","group":"Sham","treatment":"Ghrelin 3 nmol","y":151.4,"i":3},
{"panel":"D","group":"Sham","treatment":"Ghrelin 3 nmol","y":143.5,"i":4},
{"panel":"F","group":"Sham","treatment":"Saline","y":5.99,"i":1},
{"panel":"F","group":"Sham","treatment":"Saline","y":9.80,"i":2},
{"panel":"F","group":"Sham","treatment":"Ghrelin 3 nmol","y":9.80,"i":3},
{"panel":"F","group":"Sham","treatment":"Ghrelin 3 nmol","y":9.19,"i":4}
]
},
"vconcat": [
{"spacing": 0, "vconcat": [
 {"width": 708, "height": 104, "layer": [
  {"data": {"name": "traces"}, "transform": [{"filter": "datum.s === 'A1'"}], "mark": {"type": "area", "fill": "black", "stroke": "black", "strokeWidth": 0.7},
   "encoding": {"x": {"field": "t", "type": "quantitative", "scale": {"domain": [-3.8, 124.2], "nice": false, "zero": false}, "axis": null},
    "y": {"field": "v", "type": "quantitative", "scale": {"domain": [-32.5, 227.5], "nice": false, "zero": false}, "axis": null}, "y2": {"datum": 0}}},
  {"data": {"values": [{"label": "A"}]}, "mark": {"type": "text", "fontSize": 18, "align": "center"}, "encoding": {"x": {"datum": -14.47}, "y": {"datum": 170}, "text": {"field": "label"}}},
  {"data": {"values": [{"label": "Sham"}]}, "mark": {"type": "text", "fontSize": 16, "align": "left"}, "encoding": {"x": {"datum": -8.32}, "y": {"datum": 170}, "text": {"field": "label"}}},
  {"data": {"values": [{"label": "Ghrelin 3 nmol"}]}, "mark": {"type": "text", "fontSize": 13, "align": "center"}, "encoding": {"x": {"datum": 64.38}, "y": {"datum": 205}, "text": {"field": "label"}}},
  {"data": {"values": [{"label": "arrow"}]}, "mark": {"type": "rule", "color": "black", "strokeWidth": 1.5}, "encoding": {"x": {"datum": 58.05}, "y": {"datum": 172.5}, "y2": {"datum": 120}}},
  {"data": {"values": [{"label": "arrow"}]}, "mark": {"type": "point", "shape": "triangle-down", "filled": true, "color": "black", "size": 60, "opacity": 1}, "encoding": {"x": {"datum": 58.05}, "y": {"datum": 117.5}}},
  {"data": {"values": [{"label": "Antrum"}]}, "mark": {"type": "text", "fontSize": 13, "align": "left"}, "encoding": {"x": {"datum": 5.79}, "y": {"datum": 102.5}, "text": {"field": "label"}}},
  {"data": {"values": [{"label": "g"}]}, "mark": {"type": "text", "fontSize": 14, "align": "center"}, "encoding": {"x": {"datum": -9.04}, "y": {"datum": 70}, "text": {"field": "label"}}},
  {"data": {"values": [{"label": "100"}]}, "mark": {"type": "text", "fontSize": 12, "align": "left"}, "encoding": {"x": {"datum": -5.24}, "y": {"datum": 102.5}, "text": {"field": "label"}}},
  {"data": {"values": [{"label": "0"}]}, "mark": {"type": "text", "fontSize": 12, "align": "left"}, "encoding": {"x": {"datum": -5.24}, "y": {"datum": 7.5}, "text": {"field": "label"}}},
  {"data": {"values": [{"label": "scale"}]}, "mark": {"type": "rule", "color": "#222", "strokeWidth": 1.3}, "encoding": {"x": {"datum": -6.51}, "y": {"datum": -5}, "y2": {"datum": 100}}}
 ]},
 {"width": 708, "height": 96, "layer": [
  {"data": {"name": "traces"}, "transform": [{"filter": "datum.s === 'A2'"}], "mark": {"type": "area", "fill": "black", "stroke": "black", "strokeWidth": 0.7},
   "encoding": {"x": {"field": "t", "type": "quantitative", "scale": {"domain": [-3.8, 124.2], "nice": false, "zero": false}, "axis": null},
    "y": {"field": "v", "type": "quantitative", "scale": {"domain": [-100, 140], "nice": false, "zero": false}, "axis": null}, "y2": {"datum": 0}}},
  {"data": {"values": [{"label": "Duodenum"}]}, "mark": {"type": "text", "fontSize": 13, "align": "left"}, "encoding": {"x": {"datum": 5.79}, "y": {"datum": 105}, "text": {"field": "label"}}},
  {"data": {"values": [{"label": "g"}]}, "mark": {"type": "text", "fontSize": 14, "align": "center"}, "encoding": {"x": {"datum": -9.04}, "y": {"datum": 70}, "text": {"field": "label"}}},
  {"data": {"values": [{"label": "100"}]}, "mark": {"type": "text", "fontSize": 12, "align": "left"}, "encoding": {"x": {"datum": -5.24}, "y": {"datum": 105}, "text": {"field": "label"}}},
  {"data": {"values": [{"label": "0"}]}, "mark": {"type": "text", "fontSize": 12, "align": "left"}, "encoding": {"x": {"datum": -5.24}, "y": {"datum": 7.5}, "text": {"field": "label"}}},
  {"data": {"values": [{"label": "scale"}]}, "mark": {"type": "rule", "color": "#222", "strokeWidth": 1.3}, "encoding": {"x": {"datum": -6.51}, "y": {"datum": -5}, "y2": {"datum": 100}}},
  {"data": {"values": [{"label": "30 min bar"}]}, "mark": {"type": "rule", "color": "#444", "strokeWidth": 1.5}, "encoding": {"x": {"datum": 91.3}, "x2": {"datum": 121.3}, "y": {"datum": -47.5}}},
  {"data": {"values": [{"label": "30 min"}]}, "mark": {"type": "text", "fontSize": 13, "align": "center"}, "encoding": {"x": {"datum": 106.3}, "y": {"datum": -82.5}, "text": {"field": "label"}}}
 ]},
 {"width": 708, "height": 92, "layer": [
  {"data": {"name": "traces"}, "transform": [{"filter": "datum.s === 'B1'"}], "mark": {"type": "area", "fill": "black", "stroke": "black", "strokeWidth": 0.7},
   "encoding": {"x": {"field": "t", "type": "quantitative", "scale": {"domain": [-3.66, 119.9], "nice": false, "zero": false}, "axis": null},
    "y": {"field": "v", "type": "quantitative", "scale": {"domain": [-30, 200], "nice": false, "zero": false}, "axis": null}, "y2": {"datum": 0}}},
  {"data": {"values": [{"label": "B"}]}, "mark": {"type": "text", "fontSize": 18, "align": "center"}, "encoding": {"x": {"datum": -14.31}, "y": {"datum": 180}, "text": {"field": "label"}}},
  {"data": {"values": [{"label": "GERD"}]}, "mark": {"type": "text", "fontSize": 16, "align": "left"}, "encoding": {"x": {"datum": -8.03}, "y": {"datum": 180}, "text": {"field": "label"}}},
  {"data": {"values": [{"label": "Ghrelin 3 nmol"}]}, "mark": {"type": "text", "fontSize": 13, "align": "center"}, "encoding": {"x": {"datum": 62.13}, "y": {"datum": 152.5}, "text": {"field": "label"}}},
  {"data": {"values": [{"label": "arrow"}]}, "mark": {"type": "rule", "color": "black", "strokeWidth": 1.5}, "encoding": {"x": {"datum": 56.02}, "y": {"datum": 120}, "y2": {"datum": 62}}},
  {"data": {"values": [{"label": "arrow"}]}, "mark": {"type": "point", "shape": "triangle-down", "filled": true, "color": "black", "size": 60, "opacity": 1}, "encoding": {"x": {"datum": 56.02}, "y": {"datum": 60}}},
  {"data": {"values": [{"label": "Antrum"}]}, "mark": {"type": "text", "fontSize": 13, "align": "left"}, "encoding": {"x": {"datum": 5.58}, "y": {"datum": 97.5}, "text": {"field": "label"}}},
  {"data": {"values": [{"label": "g"}]}, "mark": {"type": "text", "fontSize": 14, "align": "center"}, "encoding": {"x": {"datum": -8.73}, "y": {"datum": 67.5}, "text": {"field": "label"}}},
  {"data": {"values": [{"label": "100"}]}, "mark": {"type": "text", "fontSize": 12, "align": "left"}, "encoding": {"x": {"datum": -5.06}, "y": {"datum": 97.5}, "text": {"field": "label"}}},
  {"data": {"values": [{"label": "0"}]}, "mark": {"type": "text", "fontSize": 12, "align": "left"}, "encoding": {"x": {"datum": -5.06}, "y": {"datum": 2.5}, "text": {"field": "label"}}},
  {"data": {"values": [{"label": "scale"}]}, "mark": {"type": "rule", "color": "#222", "strokeWidth": 1.3}, "encoding": {"x": {"datum": -6.28}, "y": {"datum": -5}, "y2": {"datum": 105}}}
 ]},
 {"width": 708, "height": 96, "layer": [
  {"data": {"name": "traces"}, "transform": [{"filter": "datum.s === 'B2'"}], "mark": {"type": "area", "fill": "black", "stroke": "black", "strokeWidth": 0.7},
   "encoding": {"x": {"field": "t", "type": "quantitative", "scale": {"domain": [-3.66, 119.9], "nice": false, "zero": false}, "axis": null},
    "y": {"field": "v", "type": "quantitative", "scale": {"domain": [-90, 150], "nice": false, "zero": false}, "axis": null}, "y2": {"datum": 0}}},
  {"data": {"values": [{"label": "Duodenum"}]}, "mark": {"type": "text", "fontSize": 13, "align": "left"}, "encoding": {"x": {"datum": 5.58}, "y": {"datum": 110}, "text": {"field": "label"}}},
  {"data": {"values": [{"label": "g"}]}, "mark": {"type": "text", "fontSize": 14, "align": "center"}, "encoding": {"x": {"datum": -8.73}, "y": {"datum": 60}, "text": {"field": "label"}}},
  {"data": {"values": [{"label": "100"}]}, "mark": {"type": "text", "fontSize": 12, "align": "left"}, "encoding": {"x": {"datum": -5.06}, "y": {"datum": 90}, "text": {"field": "label"}}},
  {"data": {"values": [{"label": "0"}]}, "mark": {"type": "text", "fontSize": 12, "align": "left"}, "encoding": {"x": {"datum": -5.06}, "y": {"datum": -5}, "text": {"field": "label"}}},
  {"data": {"values": [{"label": "scale"}]}, "mark": {"type": "rule", "color": "#222", "strokeWidth": 1.3}, "encoding": {"x": {"datum": -6.28}, "y": {"datum": -7.5}, "y2": {"datum": 97.5}}},
  {"data": {"values": [{"label": "30 min bar"}]}, "mark": {"type": "rule", "color": "#222", "strokeWidth": 1.5}, "encoding": {"x": {"datum": 89.4}, "x2": {"datum": 119.4}, "y": {"datum": -37.5}}},
  {"data": {"values": [{"label": "30 min"}]}, "mark": {"type": "text", "fontSize": 13, "align": "center"}, "encoding": {"x": {"datum": 105.06}, "y": {"datum": -77.5}, "text": {"field": "label"}}}
 ]}
]},
{"spacing": 71, "resolve": {"scale": {"fill": "independent"}, "legend": {"fill": "independent"}}, "hconcat": [
 {"width": 261, "height": 207, "title": {"text": "Antrum", "offset": -19.5}, "layer": [
  {"data": {"name": "bars"}, "transform": [{"filter": "datum.panel === 'C'"}], "mark": {"type": "bar", "stroke": "#222", "strokeWidth": 1},
   "encoding": {
    "x": {"field": "group", "type": "nominal", "scale": {"domain": ["Sham", "GERD"], "paddingInner": 0, "paddingOuter": 0}, "axis": {"title": null, "labelAngle": 0, "labelFontSize": 13, "tickBand": "extent", "tickSize": -4, "labelPadding": 13}},
    "xOffset": {"field": "treatment", "type": "nominal", "scale": {"domain": ["Saline", "Ghrelin 3 nmol"], "paddingInner": 0, "paddingOuter": 0.7635}},
    "y": {"field": "mean", "type": "quantitative", "scale": {"domain": [0, 160], "nice": false}, "axis": {"values": [0, 40, 80, 120, 160], "title": "MI change (%)", "tickSize": 4, "labelPadding": 5, "titlePadding": 14}},
    "fill": {"field": "treatment", "type": "nominal", "scale": {"domain": ["Saline", "Ghrelin 3 nmol"], "range": ["white", "black"]}, "legend": {"title": null, "orient": "none", "legendX": 170, "legendY": -23}}}},
  {"data": {"name": "bars"}, "transform": [{"filter": "datum.panel === 'C'"}], "mark": {"type": "rule", "color": "#333", "strokeWidth": 1},
   "encoding": {"x": {"field": "group", "type": "nominal"}, "xOffset": {"field": "treatment", "type": "nominal"}, "y": {"field": "mean", "type": "quantitative"}, "y2": {"field": "upper"}}},
  {"data": {"name": "bars"}, "transform": [{"filter": "datum.panel === 'C'"}], "mark": {"type": "tick", "color": "#333", "size": 7, "thickness": 1},
   "encoding": {"x": {"field": "group", "type": "nominal"}, "xOffset": {"field": "treatment", "type": "nominal"}, "y": {"field": "upper", "type": "quantitative"}}},
  {"data": {"name": "brackets"}, "transform": [{"filter": "datum.panel === 'C'"}], "mark": {"type": "line", "color": "#333", "strokeWidth": 1},
   "encoding": {"x": {"field": "group", "type": "nominal"}, "xOffset": {"field": "treatment", "type": "nominal"}, "y": {"field": "y", "type": "quantitative"}, "order": {"field": "i"}}},
  {"data": {"values": [{"label": "P"}]}, "mark": {"type": "text", "fontSize": 12.5, "fontStyle": "italic", "align": "right", "dx": -16.5}, "encoding": {"x": {"datum": "Sham"}, "y": {"datum": 178.2}, "text": {"field": "label"}}},
  {"data": {"values": [{"label": "=0.020"}]}, "mark": {"type": "text", "fontSize": 12.5, "align": "left", "dx": -16.5}, "encoding": {"x": {"datum": "Sham"}, "y": {"datum": 178.2}, "text": {"field": "label"}}},
  {"data": {"values": [{"label": "C"}]}, "mark": {"type": "text", "fontSize": 19, "align": "center", "dx": -116}, "encoding": {"x": {"datum": "Sham"}, "y": {"datum": 205.6}, "text": {"field": "label"}}}
 ]},
 {"width": 261, "height": 207, "title": {"text": "Duodenum", "offset": -19.5}, "layer": [
  {"data": {"name": "bars"}, "transform": [{"filter": "datum.panel === 'D'"}], "mark": {"type": "bar", "stroke": "#222", "strokeWidth": 1},
   "encoding": {
    "x": {"field": "group", "type": "nominal", "scale": {"domain": ["Sham", "GERD"], "paddingInner": 0, "paddingOuter": 0}, "axis": {"title": null, "labelAngle": 0, "labelFontSize": 13, "tickBand": "extent", "tickSize": -4, "labelPadding": 13}},
    "xOffset": {"field": "treatment", "type": "nominal", "scale": {"domain": ["Saline", "Ghrelin 3 nmol"], "paddingInner": 0, "paddingOuter": 0.7635}},
    "y": {"field": "mean", "type": "quantitative", "scale": {"domain": [0, 150], "nice": false}, "axis": {"values": [0, 50, 100, 150], "title": "MI change (%)", "tickSize": 4, "labelPadding": 5, "titlePadding": 14}},
    "fill": {"field": "treatment", "type": "nominal", "scale": {"domain": ["Saline", "Ghrelin 3 nmol"], "range": ["white", "black"]}, "legend": {"title": null, "orient": "none", "legendX": 165, "legendY": -23}}}},
  {"data": {"name": "bars"}, "transform": [{"filter": "datum.panel === 'D'"}], "mark": {"type": "rule", "color": "#333", "strokeWidth": 1},
   "encoding": {"x": {"field": "group", "type": "nominal"}, "xOffset": {"field": "treatment", "type": "nominal"}, "y": {"field": "mean", "type": "quantitative"}, "y2": {"field": "upper"}}},
  {"data": {"name": "bars"}, "transform": [{"filter": "datum.panel === 'D'"}], "mark": {"type": "tick", "color": "#333", "size": 7, "thickness": 1},
   "encoding": {"x": {"field": "group", "type": "nominal"}, "xOffset": {"field": "treatment", "type": "nominal"}, "y": {"field": "upper", "type": "quantitative"}}},
  {"data": {"name": "brackets"}, "transform": [{"filter": "datum.panel === 'D'"}], "mark": {"type": "line", "color": "#333", "strokeWidth": 1},
   "encoding": {"x": {"field": "group", "type": "nominal"}, "xOffset": {"field": "treatment", "type": "nominal"}, "y": {"field": "y", "type": "quantitative"}, "order": {"field": "i"}}},
  {"data": {"values": [{"label": "P"}]}, "mark": {"type": "text", "fontSize": 12.5, "fontStyle": "italic", "align": "right", "dx": -17.5}, "encoding": {"x": {"datum": "Sham"}, "y": {"datum": 158.7}, "text": {"field": "label"}}},
  {"data": {"values": [{"label": "=0.022"}]}, "mark": {"type": "text", "fontSize": 12.5, "align": "left", "dx": -17.5}, "encoding": {"x": {"datum": "Sham"}, "y": {"datum": 158.7}, "text": {"field": "label"}}},
  {"data": {"values": [{"label": "D"}]}, "mark": {"type": "text", "fontSize": 19, "align": "center", "dx": -108.75}, "encoding": {"x": {"datum": "Sham"}, "y": {"datum": 192.8}, "text": {"field": "label"}}}
 ]}
]},
{"spacing": 64, "resolve": {"scale": {"fill": "independent"}, "legend": {"fill": "independent"}}, "hconcat": [
 {"width": 261, "height": 206, "title": {"text": "Antrum", "offset": -19.5}, "layer": [
  {"data": {"name": "bars"}, "transform": [{"filter": "datum.panel === 'E'"}], "mark": {"type": "bar", "stroke": "#222", "strokeWidth": 1},
   "encoding": {
    "x": {"field": "group", "type": "nominal", "scale": {"domain": ["Sham", "GERD"], "paddingInner": 0, "paddingOuter": 0}, "axis": {"title": null, "labelAngle": 0, "labelFontSize": 13, "tickBand": "extent", "tickSize": -4, "labelPadding": 13}},
    "xOffset": {"field": "treatment", "type": "nominal", "scale": {"domain": ["Saline", "Ghrelin 3 nmol"], "paddingInner": 0, "paddingOuter": 0.7635}},
    "y": {"field": "mean", "type": "quantitative", "scale": {"domain": [0, 4], "nice": false}, "axis": {"values": [0, 1, 2, 3, 4], "format": ".1f", "title": ["Frequency of phase III-like", "contractions (/hour)"], "titleLineHeight": 15, "tickSize": 4, "labelPadding": 5, "titlePadding": 9}},
    "fill": {"field": "treatment", "type": "nominal", "scale": {"domain": ["Saline", "Ghrelin 3 nmol"], "range": ["white", "black"]}, "legend": {"title": null, "orient": "none", "legendX": 170, "legendY": -24}}}},
  {"data": {"name": "bars"}, "transform": [{"filter": "datum.panel === 'E'"}], "mark": {"type": "rule", "color": "#333", "strokeWidth": 1},
   "encoding": {"x": {"field": "group", "type": "nominal"}, "xOffset": {"field": "treatment", "type": "nominal"}, "y": {"field": "mean", "type": "quantitative"}, "y2": {"field": "upper"}}},
  {"data": {"name": "bars"}, "transform": [{"filter": "datum.panel === 'E'"}], "mark": {"type": "tick", "color": "#333", "size": 7, "thickness": 1},
   "encoding": {"x": {"field": "group", "type": "nominal"}, "xOffset": {"field": "treatment", "type": "nominal"}, "y": {"field": "upper", "type": "quantitative"}}},
  {"data": {"values": [{"label": "E"}]}, "mark": {"type": "text", "fontSize": 19, "align": "center", "dx": -117.5}, "encoding": {"x": {"datum": "Sham"}, "y": {"datum": 5.09}, "text": {"field": "label"}}}
 ]},
 {"width": 261, "height": 206, "title": {"text": "Duodenum", "offset": -19.5}, "layer": [
  {"data": {"name": "bars"}, "transform": [{"filter": "datum.panel === 'F'"}], "mark": {"type": "bar", "stroke": "#222", "strokeWidth": 1},
   "encoding": {
    "x": {"field": "group", "type": "nominal", "scale": {"domain": ["Sham", "GERD"], "paddingInner": 0, "paddingOuter": 0}, "axis": {"title": null, "labelAngle": 0, "labelFontSize": 13, "tickBand": "extent", "tickSize": -4, "labelPadding": 13}},
    "xOffset": {"field": "treatment", "type": "nominal", "scale": {"domain": ["Saline", "Ghrelin 3 nmol"], "paddingInner": 0, "paddingOuter": 0.7635}},
    "y": {"field": "mean", "type": "quantitative", "scale": {"domain": [0, 9], "nice": false}, "axis": {"values": [0, 3, 6, 9], "format": ".1f", "title": ["Frequency of phase III-like", "contractions (/hour)"], "titleLineHeight": 15, "tickSize": 4, "labelPadding": 5, "titlePadding": 9}},
    "fill": {"field": "treatment", "type": "nominal", "scale": {"domain": ["Saline", "Ghrelin 3 nmol"], "range": ["white", "black"]}, "legend": {"title": null, "orient": "none", "legendX": 166, "legendY": -23}}}},
  {"data": {"name": "bars"}, "transform": [{"filter": "datum.panel === 'F'"}], "mark": {"type": "rule", "color": "#333", "strokeWidth": 1},
   "encoding": {"x": {"field": "group", "type": "nominal"}, "xOffset": {"field": "treatment", "type": "nominal"}, "y": {"field": "mean", "type": "quantitative"}, "y2": {"field": "upper"}}},
  {"data": {"name": "bars"}, "transform": [{"filter": "datum.panel === 'F'"}], "mark": {"type": "tick", "color": "#333", "size": 7, "thickness": 1},
   "encoding": {"x": {"field": "group", "type": "nominal"}, "xOffset": {"field": "treatment", "type": "nominal"}, "y": {"field": "upper", "type": "quantitative"}}},
  {"data": {"name": "brackets"}, "transform": [{"filter": "datum.panel === 'F'"}], "mark": {"type": "line", "color": "#333", "strokeWidth": 1},
   "encoding": {"x": {"field": "group", "type": "nominal"}, "xOffset": {"field": "treatment", "type": "nominal"}, "y": {"field": "y", "type": "quantitative"}, "order": {"field": "i"}}},
  {"data": {"values": [{"label": "P"}]}, "mark": {"type": "text", "fontSize": 12.5, "fontStyle": "italic", "align": "right", "dx": -16.8}, "encoding": {"x": {"datum": "Sham"}, "y": {"datum": 10.21}, "text": {"field": "label"}}},
  {"data": {"values": [{"label": "=0.004"}]}, "mark": {"type": "text", "fontSize": 12.5, "align": "left", "dx": -16.8}, "encoding": {"x": {"datum": "Sham"}, "y": {"datum": 10.21}, "text": {"field": "label"}}},
  {"data": {"values": [{"label": "F"}]}, "mark": {"type": "text", "fontSize": 19, "align": "center", "dx": -109.5}, "encoding": {"x": {"datum": "Sham"}, "y": {"datum": 11.46}, "text": {"field": "label"}}}
 ]}
]}
]
}
